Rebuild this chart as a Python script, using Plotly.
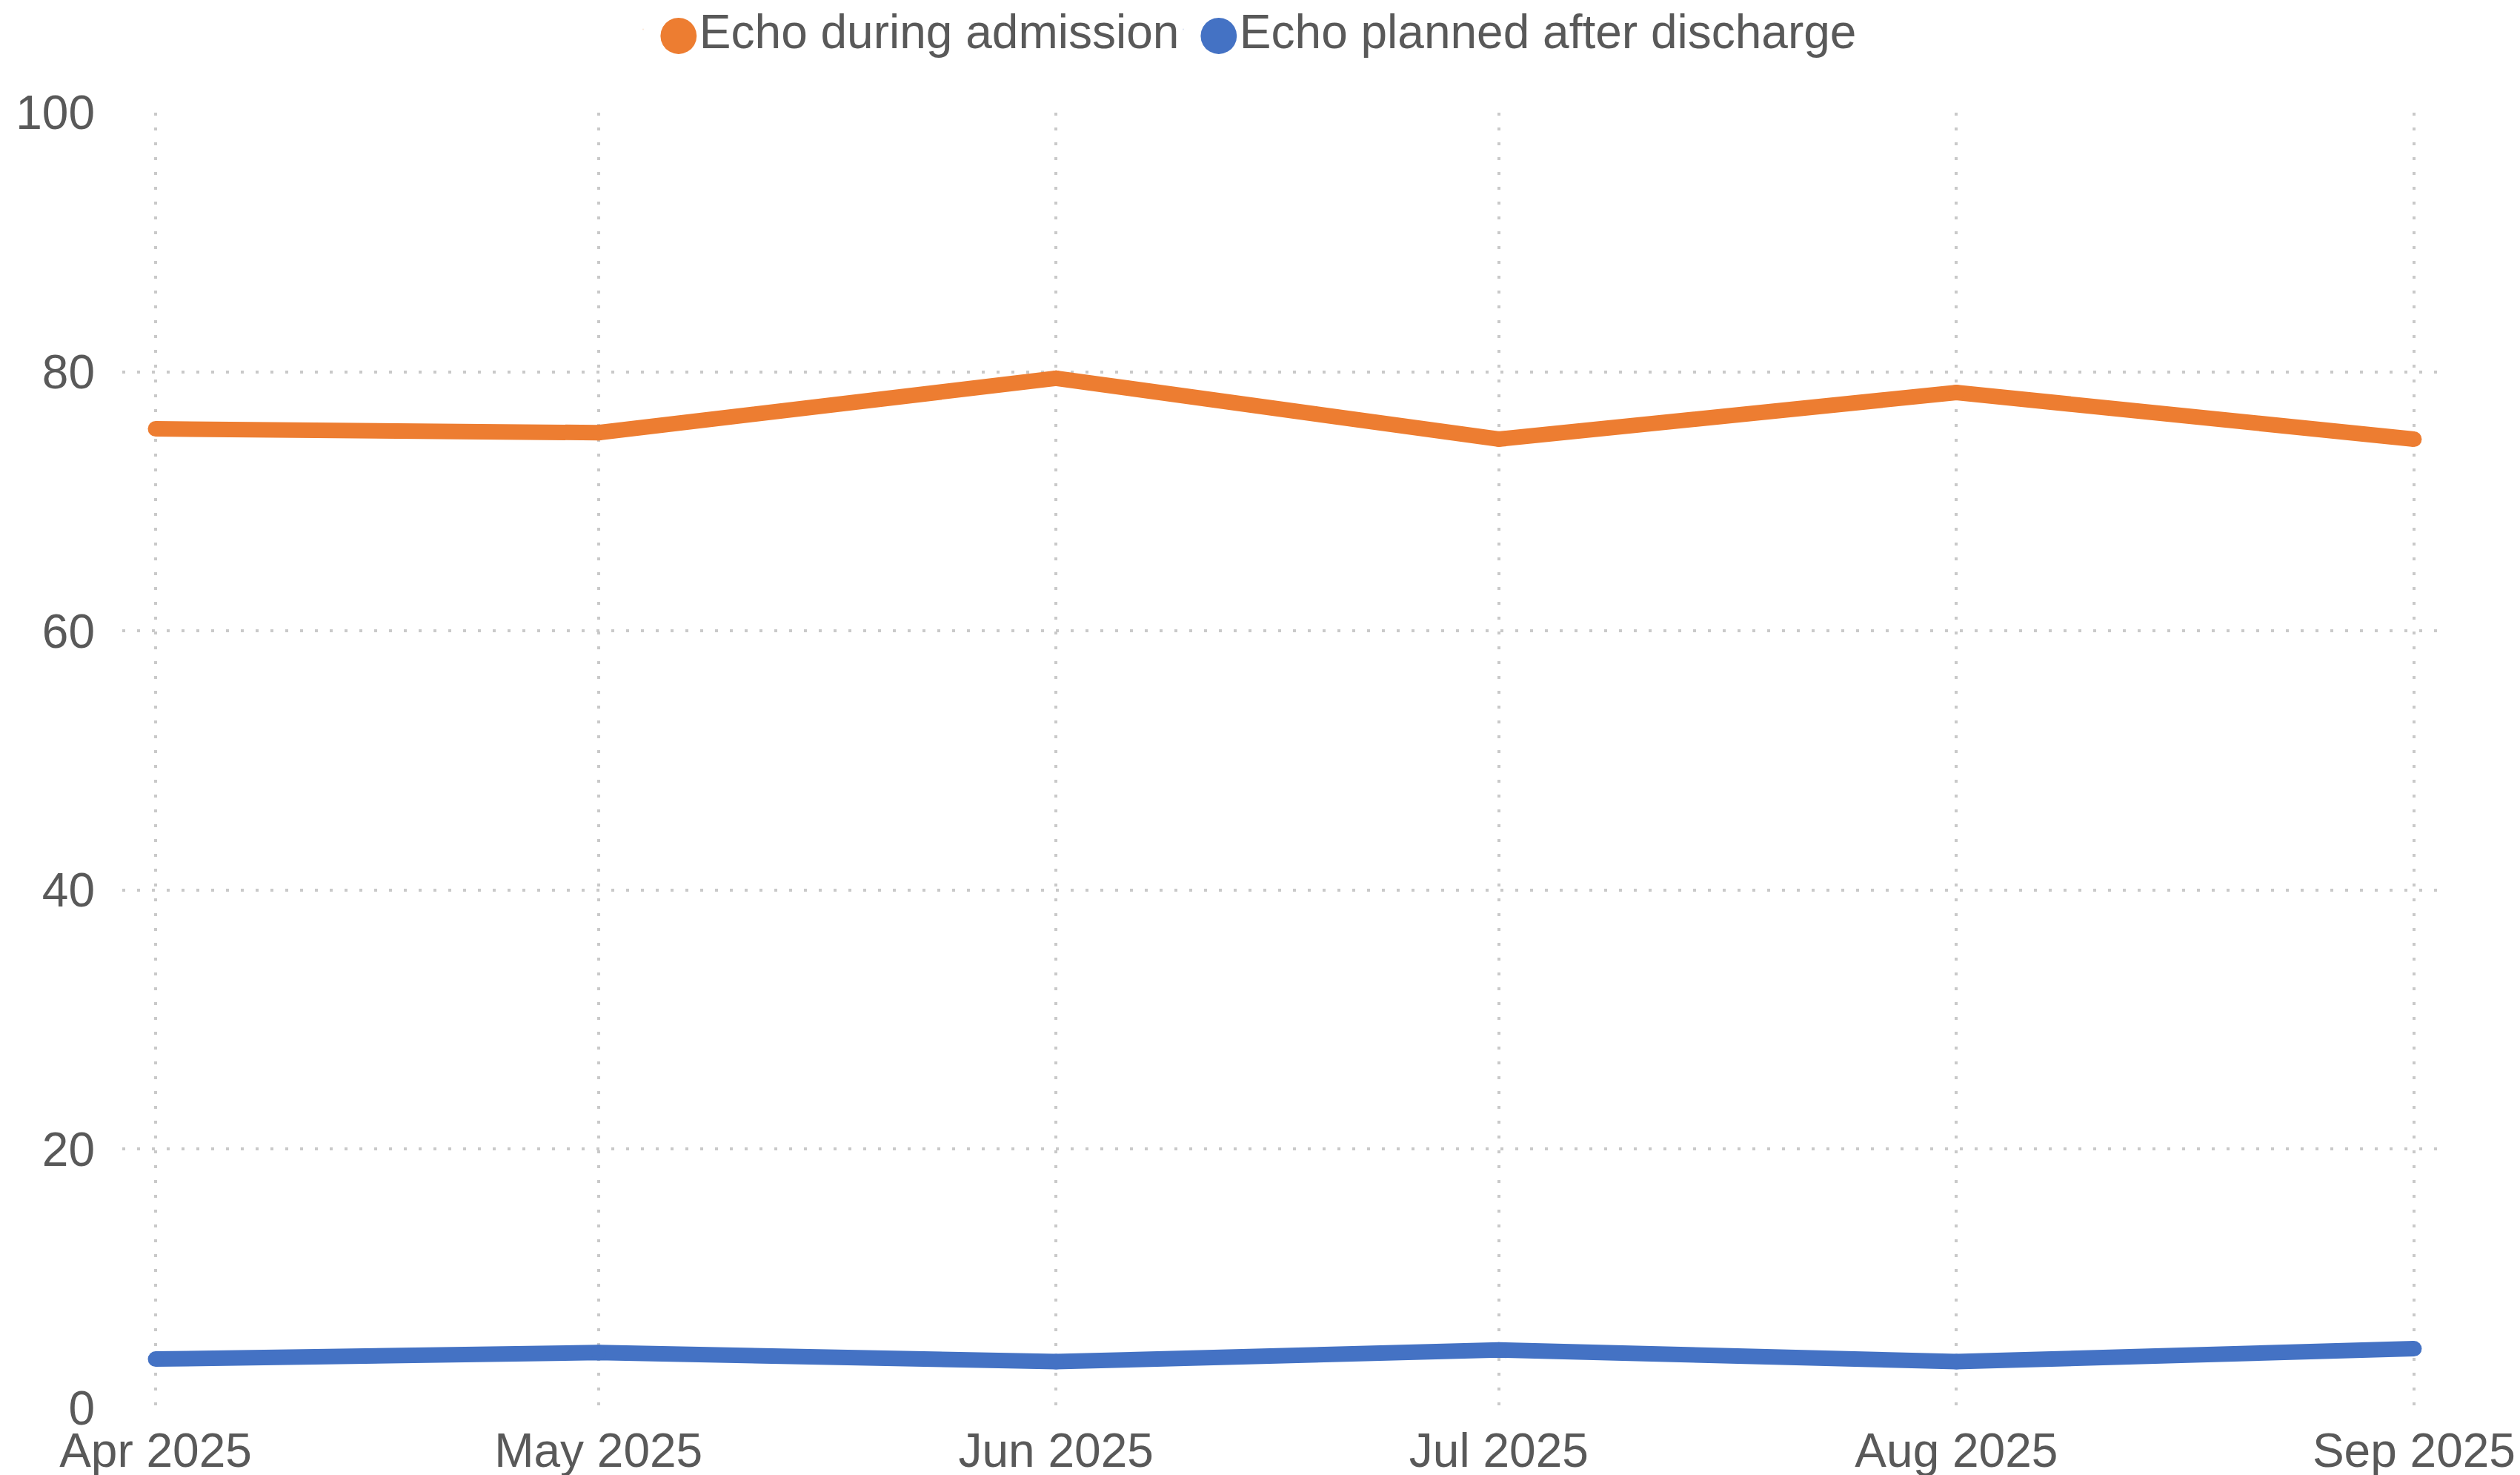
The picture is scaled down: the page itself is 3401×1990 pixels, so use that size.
import plotly.graph_objects as go

months = ["2025-04-01", "2025-05-01", "2025-06-01", "2025-07-01", "2025-08-01", "2025-09-01"]
echo_during = [75.6, 75.3, 79.5, 74.8, 78.4, 74.8]
echo_after = [3.8, 4.3, 3.6, 4.5, 3.6, 4.6]
series_names = ["Echo during admission", "Echo planned after discharge"]
colors = ["#ED7D31", "#4472C4"]

TEXT = "#595959"
GRID = "#c9c9c9"
FONT = "Liberation Sans, Arial, sans-serif"

# page body has an 8px default margin; compensate so the chart fills the window
W, H = 3393, 1982

fig = go.Figure()
for name, vals, col in zip(series_names, [echo_during, echo_after], colors):
    fig.add_trace(go.Scatter(
        x=months, y=vals, mode="lines+markers", name=name,
        line=dict(color=col, width=21),
        marker=dict(color=col, size=21, line=dict(width=0)),
        showlegend=False, hoverinfo="x+y+name",
    ))
for i, (name, col) in enumerate(zip(series_names, colors)):
    fig.add_trace(go.Scatter(
        x=[months[0]], y=[-1000], mode="markers",
        name=f'<span style="color:{col};font-family:DejaVu Sans">●</span>{name}',
        marker=dict(color=col, size=1, opacity=0),
        showlegend=True, hoverinfo="skip",
        legendwidth=684 if i == 0 else None,
    ))

fig.update_layout(
    width=W, height=H,
    margin=dict(l=157, r=106, t=144, b=90, autoexpand=False),
    paper_bgcolor="white", plot_bgcolor="white",
    font=dict(family=FONT, size=64, color=TEXT),
    legend=dict(
        orientation="h", xref="container", yref="container",
        x=0.5 - 25 / W, xanchor="center", y=1 - 32 / H, yanchor="middle",
        font=dict(size=64, color=TEXT),
        bgcolor="rgba(0,0,0,0)", traceorder="normal",
        itemwidth=30, tracegroupgap=0,
    ),
    xaxis=dict(
        type="date", range=["2025-03-29 17:45", "2025-09-02 20:40"],
        tickmode="array", tickvals=months, tickformat="%b %Y",
        showgrid=True, gridcolor=GRID, gridwidth=4, griddash="4px,16px",
        zeroline=False, showline=False, ticks="", automargin=False,
        tickfont=dict(size=64, color=TEXT), ticklabelstandoff=14,
    ),
    yaxis=dict(
        range=[0, 100], tickvals=[0, 20, 40, 60, 80, 100],
        showgrid=True, gridcolor=GRID, gridwidth=4, griddash="4px,16px",
        zeroline=False, showline=False, ticks="", automargin=False,
        tickfont=dict(size=64, color=TEXT), ticklabelstandoff=36,
    ),
)

fig.write_html("out.html")
